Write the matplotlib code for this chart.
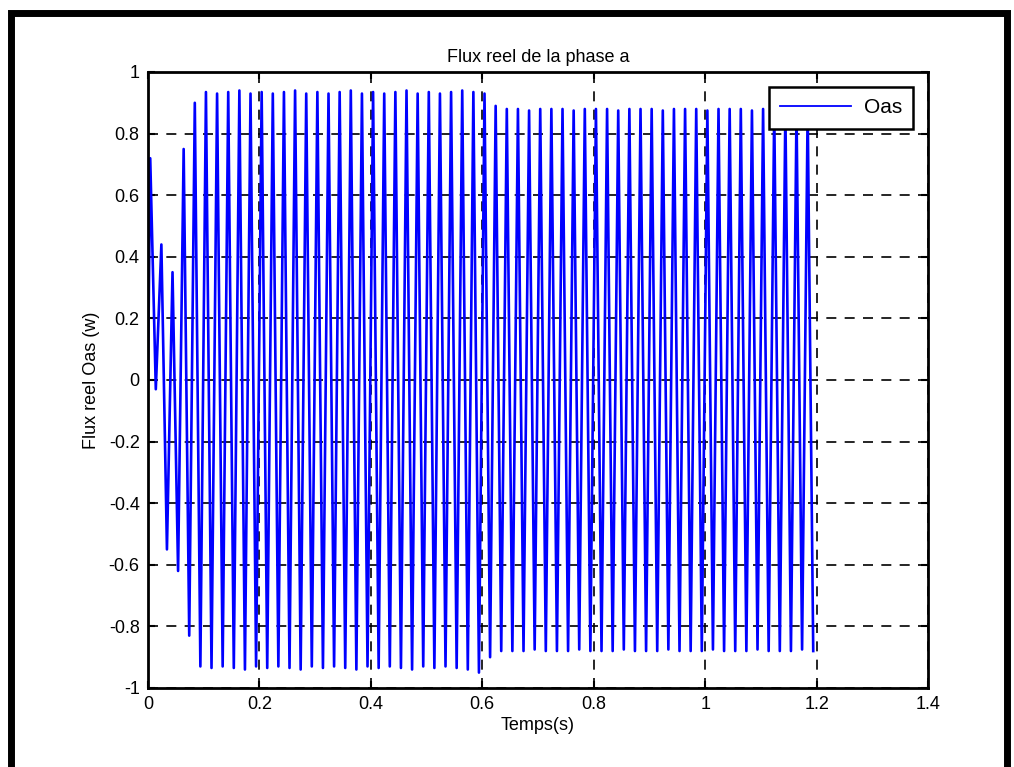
import numpy as np
import matplotlib
matplotlib.use('Agg')
import matplotlib.pyplot as plt
from matplotlib.patches import Rectangle

plt.rcParams['font.family'] = ['Liberation Sans', 'DejaVu Sans']

# flux extrema (one peak and one trough per 50 Hz cycle)
peaks = [0.72, 0.44, 0.35, 0.75, 0.90,
         0.935, 0.93, 0.935, 0.94, 0.93, 0.935, 0.93, 0.935, 0.94, 0.93,
         0.935, 0.93, 0.935, 0.94, 0.93, 0.935, 0.93, 0.935, 0.94, 0.93,
         0.935, 0.93, 0.935, 0.94, 0.935,
         0.93, 0.89,
         0.88, 0.88, 0.875, 0.88, 0.88, 0.88, 0.875, 0.88, 0.88, 0.88,
         0.875, 0.88, 0.88, 0.88, 0.875, 0.88, 0.88, 0.88, 0.875, 0.88,
         0.88, 0.88, 0.875, 0.88, 0.88, 0.88, 0.875, 0.88]
troughs = [-0.03, -0.55, -0.62, -0.83, -0.93,
           -0.935, -0.93, -0.935, -0.94, -0.93, -0.935, -0.93, -0.935, -0.94, -0.93,
           -0.935, -0.93, -0.935, -0.94, -0.93, -0.935, -0.93, -0.935, -0.94, -0.93,
           -0.935, -0.93, -0.935, -0.94, -0.95,
           -0.90, -0.88,
           -0.88, -0.88, -0.875, -0.88, -0.88, -0.88, -0.875, -0.88, -0.88, -0.88,
           -0.875, -0.88, -0.88, -0.88, -0.875, -0.88, -0.88, -0.88, -0.875, -0.88,
           -0.88, -0.88, -0.875, -0.88, -0.88, -0.88, -0.875, -0.88]
period = 0.02
t_first_peak = 0.004
start_value = 0.0

t_peaks = [t_first_peak + period * k for k in range(len(peaks))]
t_troughs = [tp + period / 2 for tp in t_peaks]

t = [0.0]
flux = [start_value]
for a, b, c, d in zip(t_peaks, peaks, t_troughs, troughs):
    t += [a, c]
    flux += [b, d]

xticks = [0, 0.2, 0.4, 0.6, 0.8, 1, 1.2, 1.4]
xticklabels = ['0', '0.2', '0.4', '0.6', '0.8', '1', '1.2', '1.4']
yticks = [-1, -0.8, -0.6, -0.4, -0.2, 0, 0.2, 0.4, 0.6, 0.8, 1]
yticklabels = ['-1', '-0.8', '-0.6', '-0.4', '-0.2', '0', '0.2', '0.4', '0.6', '0.8', '1']

fig = plt.figure(figsize=(10.14, 7.67), dpi=100)
ax = fig.add_axes([148 / 1014, 79 / 767, 780 / 1014, 616 / 767])

ax.plot(t, flux, color='#0000ff', lw=1.9, label='Oas')

ax.set_xlim(0, 1.4)
ax.set_ylim(-1, 1)
ax.set_xticks(xticks)
ax.set_xticklabels(xticklabels)
ax.set_yticks(yticks)
ax.set_yticklabels(yticklabels)
ax.tick_params(direction='in', length=5, width=1.5, top=True, right=True,
               labelsize=13, pad=6)
for s in ax.spines.values():
    s.set_linewidth(2)
ax.grid(True, color='black', linestyle=(0, (6, 5)), linewidth=1.2)

ax.set_title('Flux reel de la phase a', fontsize=13, pad=7)
ax.set_xlabel('Temps(s)', fontsize=13, labelpad=3)
ax.set_ylabel('Flux reel Oas (w)', fontsize=13, labelpad=6)

leg = ax.legend(loc='upper right', fontsize=15, fancybox=False, framealpha=1,
                edgecolor='black', handlelength=3.4, borderpad=0.55,
                handletextpad=0.6, borderaxespad=0.7)
leg.get_frame().set_linewidth(1.8)
leg.get_lines()[0].set_linewidth(1.3)

# thick outer frame
fig.patches.append(Rectangle((10.5 / 1014, -0.1), 996 / 1014, (767 - 12.5) / 767 + 0.1,
                             transform=fig.transFigure, fill=False,
                             edgecolor='black', linewidth=5))

fig.savefig('out.png', dpi=100)
